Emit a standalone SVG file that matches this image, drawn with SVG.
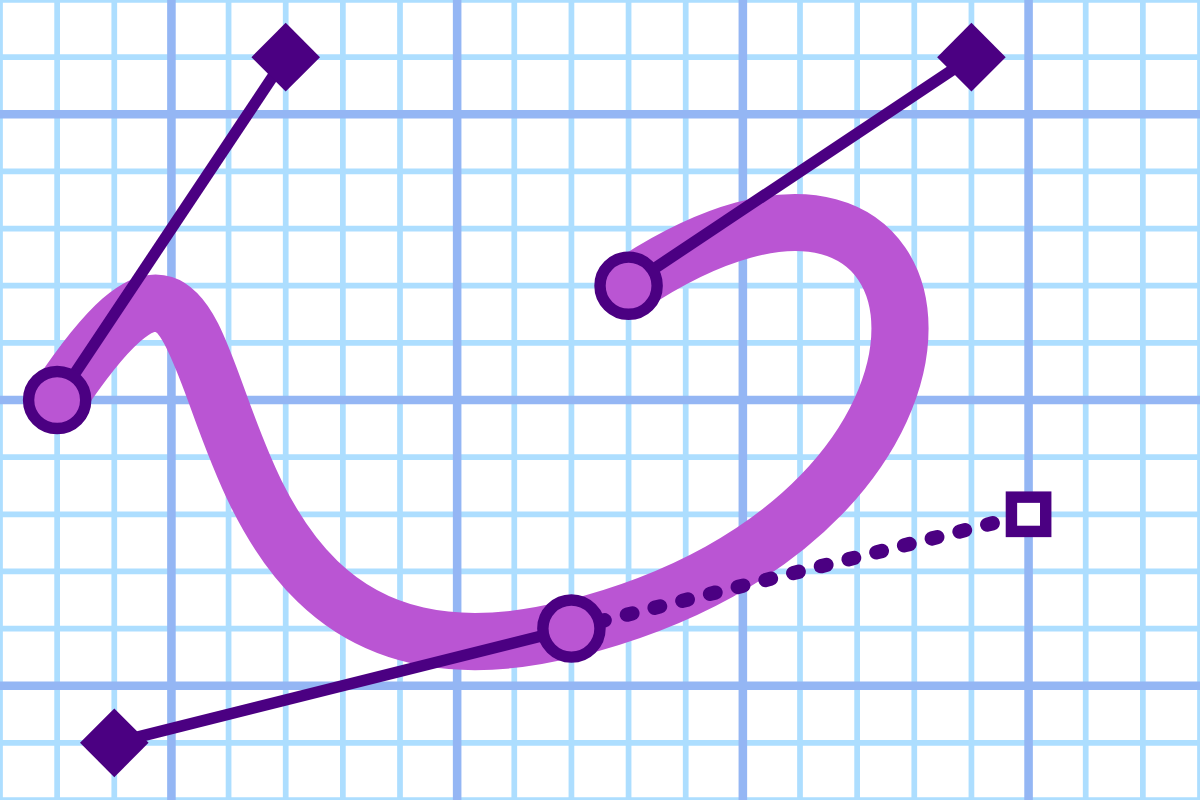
<svg xmlns="http://www.w3.org/2000/svg" width="1200" height="800" viewBox="0 0 1200 800">
<style>
.gl{stroke:#ADDEFF;stroke-width:0.1;fill:none}
.gd{stroke:#94B6F4;stroke-width:0.15;fill:none}
.curve{fill:none;stroke:#BA55D3;stroke-width:1}
.ctl{fill:none;stroke:#4B0082;stroke-width:0.2}
.dot{fill:none;stroke:#4B0082;stroke-width:0.25;stroke-linecap:round;stroke-dasharray:0.1 0.4}
.anchor{fill:#BA55D3;stroke:#4B0082;stroke-width:0.2}
.cp{fill:#4B0082}
.ref{fill:#fff;stroke:#4B0082;stroke-width:0.2}
</style>
<defs>
<polygon id="dia" points="0,-0.6 0.6,0 0,0.6 -0.6,0"/>
</defs>
<rect width="1200" height="800" fill="#fff"/>
<g transform="scale(57.142857)">
<g id="grid">
<path class="gl" d="M0,0V14M1,0V14M2,0V14M3,0V14M4,0V14M5,0V14M6,0V14M7,0V14M8,0V14M9,0V14M10,0V14M11,0V14M12,0V14M13,0V14M14,0V14M15,0V14M16,0V14M17,0V14M18,0V14M19,0V14M20,0V14M21,0V14M0,0H21M0,1H21M0,2H21M0,3H21M0,4H21M0,5H21M0,6H21M0,7H21M0,8H21M0,9H21M0,10H21M0,11H21M0,12H21M0,13H21M0,14H21"/>
<path class="gd" d="M3,0V14M8,0V14M13,0V14M18,0V14M0,2H21M0,7H21M0,12H21"/>
</g>
<g id="connectors">
<path class="curve" d="M1,7 C5,1 2,13 10,11 S17,1 11,5"/>
<line class="ctl" x1="1" y1="7" x2="5" y2="1"/>
<line class="ctl" x1="10" y1="11" x2="2" y2="13"/>
<line class="ctl" x1="11" y1="5" x2="17" y2="1"/>
<line class="dot" x1="10" y1="11" x2="18" y2="9"/>
</g>
<g id="control1"><use href="#dia" class="cp" x="5" y="1"/></g>
<g id="control2"><use href="#dia" class="cp" x="2" y="13"/></g>
<g id="control3"><use href="#dia" class="cp" x="17" y="1"/></g>
<g id="reflected"><rect class="ref" x="17.7" y="8.7" width="0.6" height="0.6"/></g>
<g id="start"><circle class="anchor" cx="1" cy="7" r="0.5"/></g>
<g id="mid"><circle class="anchor" cx="10" cy="11" r="0.5"/></g>
<g id="end"><circle class="anchor" cx="11" cy="5" r="0.5"/></g>
</g>
</svg>
